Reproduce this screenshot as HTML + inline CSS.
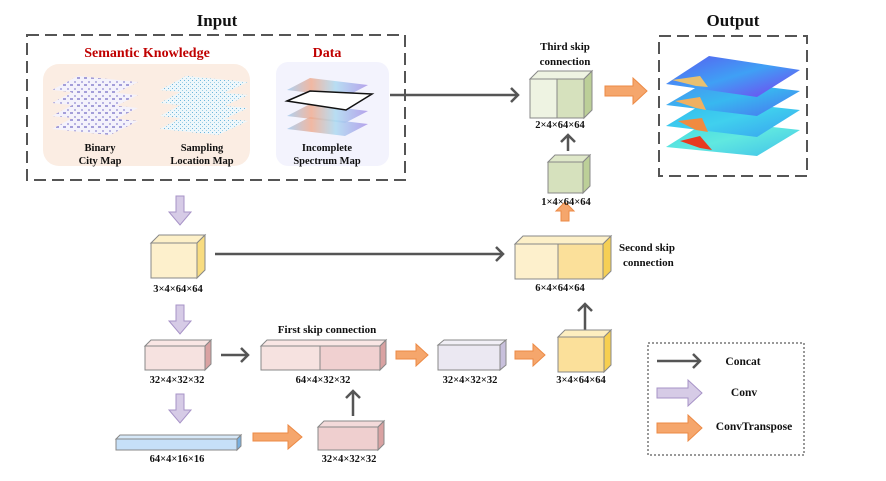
<!DOCTYPE html>
<html><head><meta charset="utf-8"><style>
html,body{margin:0;padding:0;background:#fff;}
svg{display:block;}
text{font-family:"Liberation Serif",serif;font-weight:bold;fill:#111;}
</style></head><body>
<svg width="886" height="481" viewBox="0 0 886 481" xmlns="http://www.w3.org/2000/svg">
<defs>
<pattern id="pb" width="7" height="7" patternUnits="userSpaceOnUse">
<rect width="7" height="7" fill="#f4f2fb"/><rect x="0" y="0" width="3" height="2" fill="#a49ed9"/><rect x="4" y="4" width="2" height="2" fill="#b8b3e2"/>
</pattern>
<pattern id="ps" width="4" height="4" patternUnits="userSpaceOnUse">
<rect width="4" height="4" fill="#eef7fb"/><rect x="0" y="0" width="1" height="1" fill="#6fb6dc"/><rect x="2" y="2" width="1" height="1" fill="#9cd0e6"/>
</pattern>
<linearGradient id="gd" x1="0" y1="0" x2="1" y2="0">
<stop offset="0" stop-color="#9ec8ee"/><stop offset="0.3" stop-color="#f0a98c"/><stop offset="0.6" stop-color="#a9d8f0"/><stop offset="1" stop-color="#a58ee6"/>
</linearGradient>
<linearGradient id="g1" x1="0" y1="0" x2="1" y2="1"><stop offset="0" stop-color="#5a5cf0"/><stop offset="0.5" stop-color="#3fa0f5"/><stop offset="1" stop-color="#7a3cf0"/></linearGradient>
<linearGradient id="g2" x1="0" y1="0" x2="1" y2="1"><stop offset="0" stop-color="#4a8ff0"/><stop offset="0.5" stop-color="#38b8f0"/><stop offset="1" stop-color="#4a70f0"/></linearGradient>
<linearGradient id="g3" x1="0" y1="0" x2="1" y2="1"><stop offset="0" stop-color="#30b8ee"/><stop offset="0.5" stop-color="#40d0ee"/><stop offset="1" stop-color="#38a0f0"/></linearGradient>
<linearGradient id="g4" x1="0" y1="0" x2="1" y2="1"><stop offset="0" stop-color="#40d8e0"/><stop offset="0.5" stop-color="#60e8e0"/><stop offset="1" stop-color="#40c0ea"/></linearGradient>
</defs>

<text x="217" y="26" font-size="17" text-anchor="middle">Input</text>
<rect x="27" y="35" width="378" height="145" fill="none" stroke="#555" stroke-width="2" stroke-dasharray="12,6"/>
<rect x="43" y="64" width="207" height="102" rx="16" fill="#fbede3"/>
<text x="147" y="57" font-size="14" style="fill:#c00000" text-anchor="middle">Semantic Knowledge</text>
<rect x="276" y="62" width="113" height="104" rx="12" fill="#f3f3fd"/>
<text x="327" y="57" font-size="14" style="fill:#c00000" text-anchor="middle">Data</text>

<g>
<polygon points="52,129 78,115 138,121 110,135" fill="url(#pb)"/>
<polygon points="52,116 78,102 138,108 110,122" fill="url(#pb)"/>
<polygon points="52,103 78,89 138,95 110,109" fill="url(#pb)"/>
<polygon points="52,90 78,76 138,82 110,96" fill="url(#pb)"/>
</g>
<g>
<polygon points="160,129 186,115 248,121 218,135" fill="url(#ps)"/>
<polygon points="160,116 186,102 248,108 218,122" fill="url(#ps)"/>
<polygon points="160,103 186,89 248,95 218,109" fill="url(#ps)"/>
<polygon points="160,90 186,76 248,82 218,96" fill="url(#ps)"/>
</g>
<g>
<polygon points="287,129 310,117 368,124 345,136" fill="url(#gd)" opacity="0.8"/>
<polygon points="287,116 310,104 368,111 345,123" fill="url(#gd)" opacity="0.8"/>
<polygon points="287,90 310,78 368,85 345,97" fill="url(#gd)" opacity="0.8"/>
<polygon points="287,101 310,91 372,94 346,110" fill="#fff" stroke="#111" stroke-width="1.5"/>
</g>
<text x="100" y="151" font-size="10.5" text-anchor="middle">Binary</text>
<text x="100" y="164" font-size="10.5" text-anchor="middle">City Map</text>
<text x="202" y="151" font-size="10.5" text-anchor="middle">Sampling</text>
<text x="202" y="164" font-size="10.5" text-anchor="middle">Location Map</text>
<text x="327" y="151" font-size="10.5" text-anchor="middle">Incomplete</text>
<text x="327" y="164" font-size="10.5" text-anchor="middle">Spectrum Map</text>

<g stroke="#555" stroke-width="2.5" fill="none">
<line x1="390" y1="95" x2="518" y2="95"/><polyline points="511,88 518,95 511,102"/>
<line x1="215" y1="254" x2="503" y2="254"/><polyline points="496,247 503,254 496,261"/>
<line x1="221" y1="355" x2="248" y2="355"/><polyline points="241,348 248,355 241,362"/>
<line x1="568" y1="151" x2="568" y2="135"/><polyline points="561,142 568,135 575,142"/>
<line x1="585" y1="330" x2="585" y2="304"/><polyline points="578,311 585,304 592,311"/>
<line x1="353" y1="416" x2="353" y2="391"/><polyline points="346,398 353,391 360,398"/>
<line x1="657" y1="361" x2="700" y2="361"/><polyline points="693,354 700,361 693,368"/>
</g>

<g fill="#f5a66c" stroke="#ec8a45" stroke-width="1">
<polygon points="605,86 633,86 633,78 647,91 633,104 633,96 605,96"/>
<polygon points="396,351 416,351 416,344 428,355 416,366 416,359 396,359"/>
<polygon points="515,351 533,351 533,344 545,355 533,366 533,359 515,359"/>
<polygon points="253,433 288,433 288,425 302,437 288,449 288,441 253,441"/>
<polygon points="561,221 561,211 556,211 565,202 574,211 569,211 569,221"/>
<polygon points="657,423 688,423 688,415 702,428 688,441 688,433 657,433"/>
</g>
<g fill="#d6cbe6" stroke="#a793c7" stroke-width="1">
<polygon points="176,196 184,196 184,212 191,212 180,225 169,212 176,212"/>
<polygon points="176,305 184,305 184,321 191,321 180,334 169,321 176,321"/>
<polygon points="176,394 184,394 184,410 191,410 180,423 169,410 176,410"/>
<polygon points="657,388 688,388 688,380 702,393 688,406 688,398 657,398"/>
</g>

<g stroke="#888" stroke-width="1">
<polygon points="530,79 538,71 592,71 584,79" fill="#eef3e2"/>
<polygon points="584,79 592,71 592,110 584,118" fill="#bccf98"/>
<rect x="530" y="79" width="27" height="39" fill="#eef3e2"/>
<rect x="557" y="79" width="27" height="39" fill="#d6e1bd"/>
<polygon points="548,162 555,155 590,155 583,162" fill="#dfe8c9"/>
<polygon points="583,162 590,155 590,186 583,193" fill="#bccf98"/>
<rect x="548" y="162" width="35" height="31" fill="#d6e1bd"/>
<polygon points="515,244 523,236 611,236 603,244" fill="#fdf0c8"/>
<polygon points="603,244 611,236 611,271 603,279" fill="#f5cf55"/>
<rect x="515" y="244" width="43" height="35" fill="#fdf0cc"/>
<rect x="558" y="244" width="45" height="35" fill="#fbe09a"/>
<polygon points="151,243 159,235 205,235 197,243" fill="#fdf0c8"/>
<polygon points="197,243 205,235 205,270 197,278" fill="#f8dc80"/>
<rect x="151" y="243" width="46" height="35" fill="#fdf0cc"/>
<polygon points="145,346 151,340 211,340 205,346" fill="#f9e6e4"/>
<polygon points="205,346 211,340 211,364 205,370" fill="#d9a2a2"/>
<rect x="145" y="346" width="60" height="24" fill="#f6e2e0"/>
<polygon points="261,346 267,340 386,340 380,346" fill="#f9e6e4"/>
<polygon points="380,346 386,340 386,364 380,370" fill="#d9a2a2"/>
<rect x="261" y="346" width="59" height="24" fill="#f6e2e0"/>
<rect x="320" y="346" width="60" height="24" fill="#f0d0d0"/>
<polygon points="438,345 444,340 506,340 500,345" fill="#f1eff6"/>
<polygon points="500,345 506,340 506,365 500,370" fill="#c8c0dc"/>
<rect x="438" y="345" width="62" height="25" fill="#ebe8f2"/>
<polygon points="558,337 565,330 611,330 604,337" fill="#fdeec0"/>
<polygon points="604,337 611,330 611,365 604,372" fill="#f7cf50"/>
<rect x="558" y="337" width="46" height="35" fill="#fbe09a"/>
<polygon points="116,439 120,435 241,435 237,439" fill="#d6e8f8"/>
<polygon points="237,439 241,435 241,446 237,450" fill="#78b0e0"/>
<rect x="116" y="439" width="121" height="11" fill="#c6e0f8"/>
<polygon points="318,427 324,421 384,421 378,427" fill="#f3dada"/>
<polygon points="378,427 384,421 384,444 378,450" fill="#d9a2a2"/>
<rect x="318" y="427" width="60" height="23" fill="#efcfcf"/>
</g>

<g font-size="10.5" text-anchor="middle">
<text x="565" y="50" font-size="11">Third skip</text>
<text x="565" y="65" font-size="11">connection</text>
<text x="560" y="128">2×4×64×64</text>
<text x="566" y="205">1×4×64×64</text>
<text x="560" y="291">6×4×64×64</text>
<text x="178" y="292">3×4×64×64</text>
<text x="177" y="383">32×4×32×32</text>
<text x="323" y="383">64×4×32×32</text>
<text x="327" y="333" font-size="11">First skip connection</text>
<text x="470" y="383">32×4×32×32</text>
<text x="581" y="383">3×4×64×64</text>
<text x="177" y="462">64×4×16×16</text>
<text x="349" y="462">32×4×32×32</text>
</g>
<text x="619" y="251" font-size="11">Second skip</text>
<text x="623" y="266" font-size="11">connection</text>

<text x="733" y="26" font-size="17" text-anchor="middle">Output</text>
<rect x="659" y="36" width="148" height="140" fill="none" stroke="#555" stroke-width="2" stroke-dasharray="12,6"/>
<polygon points="666,147 709,120 800,130 757,156" fill="url(#g4)"/>
<polygon points="680,141 700,136 712,150 700,148" fill="#e83a20"/>
<polygon points="666,126 709,100 800,110 757,137" fill="url(#g3)"/>
<polygon points="678,121 702,118 708,132 696,130" fill="#f08a40"/>
<polygon points="666,105 709,80 800,91 757,116" fill="url(#g2)"/>
<polygon points="675,101 700,97 706,110 696,108" fill="#f0b060"/>
<polygon points="666,84 709,56 800,70 757,97" fill="url(#g1)"/>
<polygon points="672,80 700,76 708,87 696,86" fill="#e8c070"/>

<rect x="648" y="343" width="156" height="112" fill="none" stroke="#333" stroke-width="1" stroke-dasharray="2,2"/>
<text x="743" y="365" font-size="11.5" text-anchor="middle">Concat</text>
<text x="744" y="396" font-size="11.5" text-anchor="middle">Conv</text>
<text x="754" y="430" font-size="11.5" text-anchor="middle">ConvTranspose</text>
</svg>
</body></html>
